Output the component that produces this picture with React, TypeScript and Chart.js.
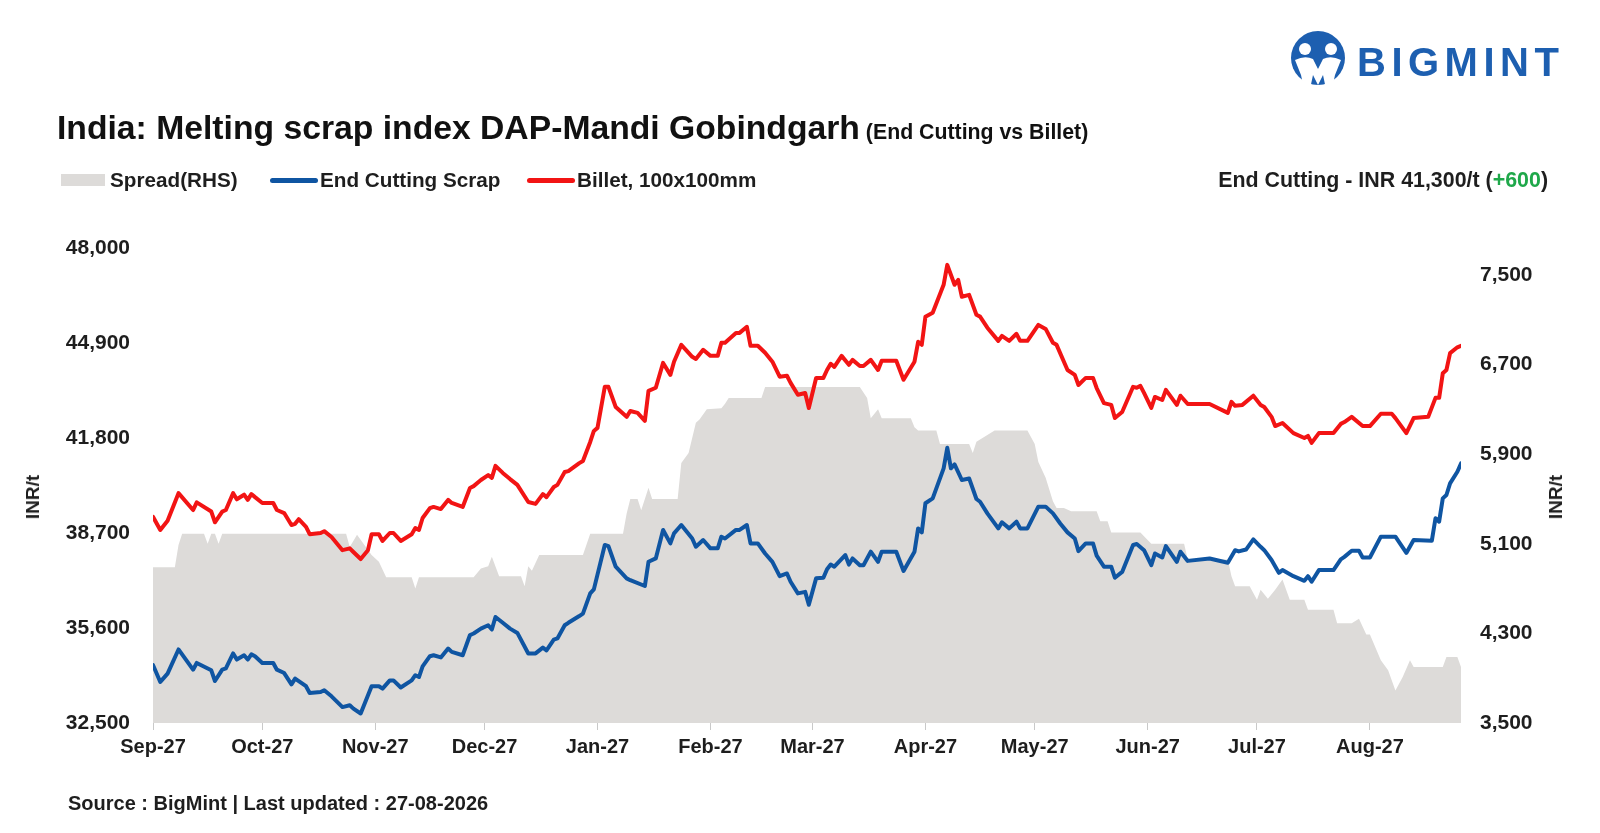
import React, { useEffect, useRef } from "react";
import { Chart, registerables } from "chart.js";

Chart.register(...registerables);

// ---- Data (days counted from the first date on the axis, Sep-27) ----
const monthDays = [0, 30, 61, 91, 122, 153, 181, 212, 242, 273, 303, 334];
const monthLabels = ["Sep-27", "Oct-27", "Nov-27", "Dec-27", "Jan-27", "Feb-27", "Mar-27", "Apr-27", "May-27", "Jun-27", "Jul-27", "Aug-27"];
const leftTicks = [32500, 35600, 38700, 41800, 44900, 48000];
const rightTicks = [3500, 4300, 5100, 5900, 6700, 7500];

const billetDays = [0, 2, 4, 7, 11, 12, 16, 17, 19, 20, 22, 23, 25, 26, 27, 28, 30, 33, 34, 36, 38, 39, 40, 42, 43, 46, 47, 49, 52, 54, 55, 57, 59, 60, 62, 63, 65, 66, 68, 71, 72, 73, 74, 76, 77, 79, 81, 82, 85, 87, 88, 90, 92, 93, 94, 96, 98, 100, 103, 105, 107, 108, 110, 111, 113, 114, 117, 118, 120, 121, 122, 124, 125, 127, 130, 131, 133, 135, 136, 138, 140, 142, 143, 145, 148, 149, 151, 153, 155, 156, 157, 160, 161, 163, 164, 166, 168, 170, 172, 174, 175, 177, 179, 180, 182, 184, 185, 186, 187, 189, 191, 192, 194, 195, 197, 199, 200, 204, 206, 209, 210, 211, 212, 214, 217, 218, 220, 221, 222, 224, 226, 227, 229, 232, 233, 235, 237, 238, 240, 243, 245, 247, 248, 251, 253, 254, 256, 258, 259, 261, 263, 264, 266, 269, 270, 271, 272, 274, 275, 277, 278, 281, 282, 284, 290, 295, 296, 297, 299, 302, 304, 305, 307, 308, 310, 313, 316, 317, 318, 320, 324, 326, 327, 329, 332, 334, 337, 340, 341, 344, 346, 350, 352, 353, 354, 355, 356, 358, 359];
const billetValues = [39230, 38800, 39100, 40000, 39450, 39700, 39400, 39050, 39400, 39450, 40000, 39800, 39950, 39780, 39970, 39870, 39680, 39680, 39450, 39350, 38960, 39000, 39150, 38900, 38660, 38700, 38760, 38570, 38140, 38200, 38080, 37850, 38140, 38660, 38660, 38440, 38700, 38700, 38440, 38660, 38860, 38800, 39190, 39510, 39550, 39480, 39780, 39680, 39550, 40170, 40230, 40430, 40590, 40500, 40890, 40660, 40460, 40270, 39710, 39650, 39970, 39870, 40200, 40270, 40690, 40720, 40980, 41050, 41670, 42030, 42130, 43470, 43470, 42810, 42490, 42680, 42620, 42360, 43340, 43440, 44250, 43860, 44290, 44840, 44450, 44380, 44680, 44480, 44480, 44910, 44910, 45230, 45230, 45430, 44810, 44810, 44580, 44290, 43800, 43830, 43600, 43210, 43270, 42780, 43760, 43760, 44020, 44220, 44120, 44480, 44190, 44350, 44150, 44150, 44350, 44020, 44320, 44320, 43700, 44290, 44940, 44840, 45760, 45890, 46800, 47450, 46800, 46960, 46410, 46470, 45820, 45760, 45400, 44970, 45130, 44970, 45200, 44970, 44970, 45490, 45360, 44910, 44840, 44020, 43860, 43530, 43760, 43760, 43430, 42940, 42880, 42450, 42650, 43470, 43440, 43500, 43270, 42780, 43140, 43040, 43370, 42880, 43180, 42910, 42910, 42620, 42980, 42850, 42880, 43180, 42880, 42810, 42490, 42190, 42290, 41960, 41800, 41870, 41640, 41960, 41960, 42260, 42320, 42490, 42190, 42190, 42590, 42590, 42450, 41960, 42450, 42490, 43110, 43110, 43910, 44020, 44570, 44760, 44810];

const scrapDays = [0, 2, 4, 7, 11, 12, 16, 17, 19, 20, 22, 23, 25, 26, 27, 28, 30, 33, 34, 36, 38, 39, 42, 43, 46, 47, 49, 52, 54, 55, 57, 60, 62, 63, 65, 66, 68, 71, 72, 73, 74, 76, 77, 79, 81, 82, 85, 87, 88, 90, 92, 93, 94, 96, 98, 100, 103, 105, 107, 108, 110, 111, 113, 114, 117, 118, 120, 121, 124, 125, 127, 130, 131, 135, 136, 138, 140, 142, 143, 145, 148, 149, 151, 153, 155, 156, 157, 160, 161, 163, 164, 166, 168, 170, 172, 174, 175, 177, 179, 180, 182, 184, 185, 186, 187, 190, 191, 192, 194, 195, 197, 199, 200, 204, 206, 209, 210, 211, 212, 214, 217, 218, 219, 220, 222, 224, 226, 227, 229, 232, 233, 235, 237, 238, 240, 243, 245, 247, 249, 251, 253, 254, 256, 258, 259, 261, 263, 264, 266, 269, 270, 272, 274, 275, 277, 278, 281, 282, 284, 290, 295, 297, 298, 300, 302, 304, 305, 307, 309, 310, 313, 316, 317, 318, 320, 324, 326, 327, 329, 331, 332, 334, 337, 341, 344, 346, 351, 352, 353, 354, 355, 356, 358, 359];
const scrapValues = [34390, 33840, 34110, 34900, 34240, 34460, 34220, 33870, 34240, 34280, 34770, 34570, 34710, 34570, 34740, 34680, 34460, 34460, 34240, 34130, 33760, 33950, 33700, 33480, 33510, 33570, 33370, 33020, 33080, 32970, 32810, 33700, 33700, 33620, 33890, 33890, 33660, 33890, 34060, 34000, 34350, 34680, 34710, 34640, 34930, 34820, 34710, 35370, 35420, 35580, 35690, 35550, 35960, 35770, 35580, 35440, 34770, 34770, 34960, 34870, 35220, 35260, 35690, 35770, 35990, 36070, 36730, 36860, 38310, 38270, 37600, 37220, 37160, 36970, 37760, 37870, 38800, 38360, 38690, 38960, 38520, 38250, 38470, 38200, 38200, 38580, 38520, 38800, 38800, 38960, 38360, 38360, 38030, 37760, 37290, 37380, 37110, 36730, 36780, 36360, 37220, 37240, 37520, 37670, 37600, 37980, 37670, 37870, 37650, 37650, 38090, 37760, 38090, 38090, 37460, 38090, 38850, 38720, 39670, 39830, 40810, 41480, 40810, 40940, 40430, 40480, 39810, 39720, 39340, 38850, 39050, 38850, 39070, 38850, 38850, 39560, 39560, 39340, 39010, 38720, 38520, 38110, 38360, 38360, 37960, 37600, 37600, 37240, 37430, 38310, 38340, 38140, 37650, 38030, 37900, 38270, 37760, 38090, 37790, 37870, 37730, 38140, 38100, 38160, 38490, 38250, 38140, 37820, 37400, 37490, 37290, 37140, 37290, 37110, 37490, 37490, 37840, 37920, 38120, 38120, 37900, 37900, 38580, 38580, 38050, 38470, 38450, 39180, 39070, 39830, 39940, 40320, 40700, 40970];

const spreadDays = [0, 6, 7, 8, 14, 15, 16, 17, 18, 19, 53, 54, 56, 60, 62, 64, 71, 72, 73, 88, 90, 92, 93, 95, 101, 102, 103, 104, 106, 118, 120, 129, 130, 131, 133, 134, 136, 137, 144, 145, 147, 149, 150, 152, 156, 157, 158, 167, 168, 194, 196, 197, 199, 200, 208, 209, 210, 215, 216, 224, 225, 226, 230, 231, 240, 242, 243, 245, 247, 248, 250, 252, 259, 260, 262, 263, 271, 274, 283, 284, 295, 296, 297, 301, 303, 304, 306, 308, 310, 312, 316, 317, 324, 325, 329, 331, 333, 334, 337, 339, 341, 343, 345, 346, 354, 355, 358, 359];
const spreadValues = [4890, 4890, 5090, 5190, 5190, 5100, 5190, 5190, 5100, 5190, 5190, 5070, 5180, 5000, 4940, 4800, 4800, 4700, 4800, 4800, 4880, 4900, 4985, 4810, 4810, 4720, 4900, 4860, 5000, 5000, 5190, 5190, 5370, 5500, 5500, 5400, 5600, 5500, 5500, 5820, 5910, 6180, 6210, 6300, 6310, 6350, 6400, 6400, 6500, 6500, 6400, 6220, 6300, 6220, 6220, 6140, 6110, 6110, 5990, 5990, 5910, 6010, 6090, 6110, 6110, 5990, 5830, 5690, 5480, 5420, 5420, 5390, 5390, 5300, 5300, 5200, 5200, 5100, 5100, 4960, 4960, 4810, 4720, 4720, 4600, 4690, 4610, 4690, 4780, 4600, 4600, 4510, 4510, 4390, 4390, 4430, 4290, 4290, 4060, 3970, 3790, 3910, 4060, 4000, 4000, 4090, 4090, 4000];

// ---- Styling ----
const FONT = "'Liberation Sans', Arial, sans-serif";
const RED = "#f21414";
const BLUE = "#0f55a2";
const GREY = "#dddbd9";
const TEXT = "#1e1e1e";
const LOGO_BLUE = "#1d5fb0";

const toPoints = (days: number[], vals: number[]) => days.map((d, i) => ({ x: d, y: vals[i] }));

export default function App() {
  const canvasRef = useRef<HTMLCanvasElement | null>(null);

  useEffect(() => {
    document.body.style.margin = "0";
    const canvas = canvasRef.current;
    if (!canvas) return;
    const xFont = { family: FONT, size: 20, weight: "bold" as const };
    const yFont = { family: FONT, size: 21, weight: "bold" as const };
    const chart = new Chart(canvas, {
      type: "line",
      data: {
        datasets: [
          {
            label: "End Cutting Scrap",
            data: toPoints(scrapDays, scrapValues),
            borderColor: BLUE,
            backgroundColor: BLUE,
            borderWidth: 4,
            yAxisID: "y",
            fill: false,
          },
          {
            label: "Billet, 100x100mm",
            data: toPoints(billetDays, billetValues),
            borderColor: RED,
            backgroundColor: RED,
            borderWidth: 4,
            yAxisID: "y",
            fill: false,
          },
          {
            label: "Spread(RHS)",
            data: toPoints(spreadDays, spreadValues),
            borderColor: GREY,
            backgroundColor: GREY,
            borderWidth: 0,
            yAxisID: "y2",
            fill: "start",
          },
        ],
      },
      options: {
        responsive: false,
        maintainAspectRatio: false,
        animation: false,
        layout: { padding: { top: 248, left: 0, right: 0, bottom: 0 } },
        plugins: {
          legend: { display: false },
          tooltip: { enabled: false },
          title: { display: false },
        },
        elements: {
          point: { radius: 0, hoverRadius: 0 },
          line: { tension: 0, borderJoinStyle: "round", borderCapStyle: "round" },
        },
        scales: {
          x: {
            type: "linear",
            min: 0,
            max: 359,
            afterBuildTicks: (axis: any) => {
              axis.ticks = monthDays.map((v) => ({ value: v }));
            },
            afterFit: (s: any) => {
              s.height = 110;
            },
            grid: { display: true, drawOnChartArea: false, drawTicks: true, tickLength: 7, color: "#c9c9c9" },
            border: { display: false },
            ticks: {
              autoSkip: false,
              maxRotation: 0,
              padding: 5,
              color: TEXT,
              font: xFont,
              callback: (v: any) => {
                const i = monthDays.indexOf(Number(v));
                return i >= 0 ? monthLabels[i] : "";
              },
            },
          },
          y: {
            position: "left",
            min: 32500,
            max: 48000,
            afterBuildTicks: (axis: any) => {
              axis.ticks = leftTicks.map((v) => ({ value: v }));
            },
            afterFit: (s: any) => {
              s.width = 153;
            },
            grid: { display: false, drawTicks: false },
            border: { display: false },
            ticks: {
              padding: 23,
              color: TEXT,
              font: yFont,
              callback: (v: any) => Number(v).toLocaleString("en-US"),
            },
          },
          y2: {
            position: "right",
            min: 3500,
            max: 7740,
            afterBuildTicks: (axis: any) => {
              axis.ticks = rightTicks.map((v) => ({ value: v }));
            },
            afterFit: (s: any) => {
              s.width = 139;
            },
            grid: { display: false, drawTicks: false },
            border: { display: false },
            ticks: {
              padding: 19,
              color: TEXT,
              font: yFont,
              callback: (v: any) => Number(v).toLocaleString("en-US"),
            },
          },
        },
      } as any,
    });
    return () => chart.destroy();
  }, []);

  const abs = (style: React.CSSProperties): React.CSSProperties => ({ position: "absolute", ...style });
  const legendText: React.CSSProperties = { fontSize: 20.7, fontWeight: 700, lineHeight: "24px", whiteSpace: "nowrap" };

  return (
    <div
      style={{
        position: "relative",
        width: 1600,
        height: 833,
        background: "#ffffff",
        fontFamily: FONT,
        color: TEXT,
        overflow: "hidden",
      }}
    >
      <canvas ref={canvasRef} width={1600} height={833} style={{ position: "absolute", left: 0, top: 0, width: 1600, height: 833 }} />

      {/* Logo */}
      <svg style={abs({ left: 1288, top: 29 })} width="60" height="64" viewBox="0 0 60 64">
        <circle cx="30" cy="29" r="27" fill={LOGO_BLUE} />
        <circle cx="17" cy="20" r="6" fill="#ffffff" />
        <circle cx="43" cy="20" r="6" fill="#ffffff" />
        <path d="M7 31 Q17 26 25 30 L30 40 L35 30 Q43 26 53 31 L47 46 L44 60 L38 60 L35 46 L30 56 L25 46 L22 60 L16 60 L13 46 Z" fill="#ffffff" />
      </svg>
      <div
        style={abs({
          left: 1357,
          top: 40,
          fontSize: 40,
          lineHeight: "44px",
          fontWeight: 700,
          letterSpacing: 5.5,
          color: LOGO_BLUE,
        })}
      >
        BIGMINT
      </div>

      {/* Title */}
      <div style={abs({ left: 57, top: 109, whiteSpace: "nowrap", lineHeight: "36px" })}>
        <span style={{ fontSize: 33.7, fontWeight: 700, color: "#111" }}>India: Melting scrap index DAP-Mandi Gobindgarh</span>
        <span style={{ fontSize: 21.3, fontWeight: 700, color: "#111" }}> (End Cutting vs Billet)</span>
      </div>

      {/* Legend */}
      <div style={abs({ left: 61, top: 174, width: 44, height: 12, background: GREY })} />
      <div style={abs({ left: 110, top: 168, ...legendText })}>Spread(RHS)</div>
      <div style={abs({ left: 270, top: 178, width: 48, height: 5, borderRadius: 3, background: BLUE })} />
      <div style={abs({ left: 320, top: 168, ...legendText })}>End Cutting Scrap</div>
      <div style={abs({ left: 527, top: 178, width: 48, height: 5, borderRadius: 3, background: RED })} />
      <div style={abs({ left: 577, top: 168, ...legendText })}>Billet, 100x100mm</div>
      <div style={abs({ right: 52, top: 168, ...legendText, fontSize: 21.4 })}>
        End Cutting - INR 41,300/t (<span style={{ color: "#1fa84a" }}>+600</span>)
      </div>

      {/* Axis titles */}
      <div
        style={abs({
          left: 33,
          top: 497,
          transform: "translate(-50%, -50%) rotate(-90deg)",
          fontSize: 19,
          fontWeight: 700,
          whiteSpace: "nowrap",
        })}
      >
        INR/t
      </div>
      <div
        style={abs({
          left: 1556,
          top: 497,
          transform: "translate(-50%, -50%) rotate(-90deg)",
          fontSize: 19,
          fontWeight: 700,
          whiteSpace: "nowrap",
        })}
      >
        INR/t
      </div>

      {/* Source */}
      <div style={abs({ left: 68, top: 791, fontSize: 20, fontWeight: 700, lineHeight: "24px", whiteSpace: "nowrap" })}>
        Source : BigMint | Last updated : 27-08-2026
      </div>
    </div>
  );
}
